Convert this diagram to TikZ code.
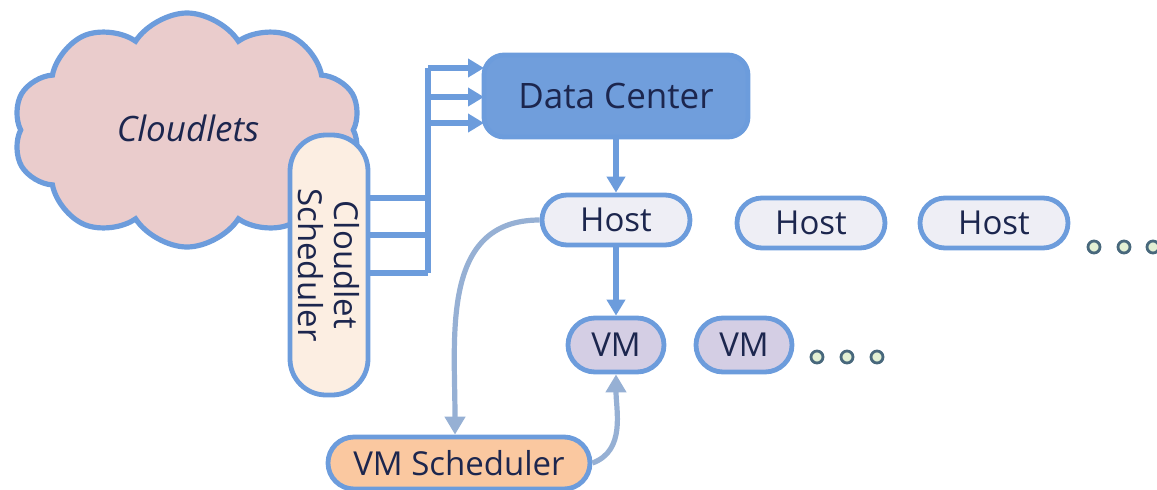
\documentclass[tikz,border=0pt]{standalone}
\usepackage{fontspec}
\setmainfont{Open Sans}
\usepackage{tikz}
\usetikzlibrary{arrows.meta,positioning,shapes.symbols}
\definecolor{edge}{RGB}{108,156,220}
\definecolor{ink}{RGB}{28,38,78}
\definecolor{cloudF}{RGB}{234,204,204}
\definecolor{schedF}{RGB}{252,238,226}
\definecolor{dcF}{RGB}{112,158,220}
\definecolor{hostF}{RGB}{238,238,245}
\definecolor{vmF}{RGB}{212,206,228}
\definecolor{vmsF}{RGB}{250,200,160}
\definecolor{curve}{RGB}{150,176,212}
\definecolor{dotF}{RGB}{226,240,212}
\definecolor{dotD}{RGB}{72,104,124}
\tikzset{
  pill/.style={draw=edge,line width=2.4pt,rounded corners=12.5pt,text=ink,
    font=\fontsize{16.5}{18}\selectfont,inner sep=0pt,align=center},
  hostbox/.style={pill,fill=hostF,minimum width=74pt,minimum height=25pt},
  vmbox/.style={pill,fill=vmF,minimum width=48pt,minimum height=27pt,rounded corners=13.5pt},
  link/.style={edge,line width=3pt},
  arr/.style={-{Triangle[length=8pt,width=9pt]},edge,line width=2.6pt},
  flow/.style={-{Triangle[length=9pt,width=10pt]},curve,line width=2.6pt},
  moredot/.style={circle,draw=dotD,fill=dotF,line width=1.4pt,minimum size=6pt,inner sep=0pt},
}
\begin{document}
\begin{tikzpicture}[x=0.5pt,y=-0.5pt]
\useasboundingbox (0,0) rectangle (1157,489);
% cloudlets and their scheduler
\node[cloud,cloud puffs=10,cloud puff arc=115,aspect=1.5,draw=edge,line width=2.6pt,
  fill=cloudF,minimum width=174pt,minimum height=117pt] (cl) at (187,130) {};
\node[text=ink,font=\fontsize{17.5}{20}\selectfont\itshape] (cltxt) at (188,128) {Cloudlets};
\node[pill,fill=schedF,rounded corners=18pt,minimum width=130pt,minimum height=39pt,
  rotate=-90] (sched) at (329,265) {Cloudlet\\Scheduler};
% bus into the data center
\coordinate (bt) at (428,68);
\coordinate (bb) at (428,273);
\draw[link] (bt) -- (bb);
\foreach \y in {198,235,273}
  \draw[link] (sched.north |- 0,\y) -- (bt |- 0,\y);
\node[pill,fill=dcF,rounded corners=10pt,minimum width=132pt,minimum height=41pt,
  font=\fontsize{17.5}{20}\selectfont] (dc) at (616,96) {Data Center};
\foreach \y in {68,97,123}
  \draw[arr] (bt |- 0,\y) -- (484,\y);
% hosts
\node[hostbox] (h1) at (616,220) {Host};
\node[hostbox] (h2) at (811,223) {Host};
\node[hostbox] (h3) at (994,223) {Host};
\foreach \x [count=\i] in {1094,1124,1153}
  \node[moredot] (hd\i) at (\x,247) {};
\draw[arr] (dc) -- (h1);
% vms
\node[vmbox] (vm1) at (616,345) {VM};
\node[vmbox] (vm2) at (744,345) {VM};
\foreach \x [count=\i] in {817,847,877}
  \node[moredot] (vd\i) at (\x,357) {};
\draw[arr] (h1) -- (vm1);
% vm scheduler
\node[pill,fill=vmsF,minimum width=131pt,minimum height=26pt,rounded corners=13pt] (vms) at (459,463) {VM Scheduler};
\draw[flow] (h1.west) to[out=180,in=90,looseness=1.1] ([xshift=-2pt]vms.north);
\draw[flow] (vms.east) to[out=20,in=-90] (vm1.south);
\end{tikzpicture}
\end{document}
